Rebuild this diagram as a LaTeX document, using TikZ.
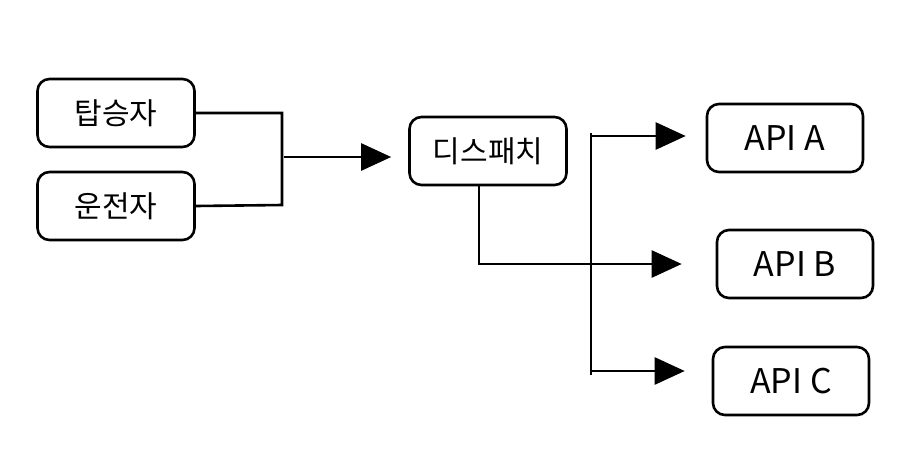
\documentclass[tikz,border=0pt]{standalone}
\usepackage{fontspec}
\newfontfamily\krfont{Noto Sans CJK KR}
\usetikzlibrary{arrows.meta}

\begin{document}
\begin{tikzpicture}[x=1pt,y=-1pt,>={Triangle[length=30pt,width=27pt]},line width=2.6pt,
 box/.style={draw,rounded corners=12pt,minimum width=157pt,minimum height=68pt,inner sep=0pt,
  font=\krfont\fontsize{30}{34}\selectfont},
 api/.style={box,minimum width=156pt,font=\krfont\fontsize{34}{40}\selectfont}]
 \useasboundingbox (0,0) rectangle (918,448);
 \node[box] (rider) at (116,113) {탑승자};
 \node[box] (driver) at (116,206) {운전자};
 \node[box] (dispatch) at (488,151) {디스패치};
 \node[api] (apia) at (785,138) {API A};
 \node[api] (apib) at (795,264) {API B};
 \node[api] (apic) at (791,381) {API C};

 \coordinate (jtop) at (282,113);
 \coordinate (jbot) at (282,205);
 \coordinate (join) at (284,157);
 \coordinate (bartop) at (591,133);
 \coordinate (barbot) at (591,375);
 \coordinate (forka) at (591,136);
 \coordinate (forkc) at (591,371);

 \draw (rider.east) -- (jtop) -- (jbot) -- (driver.east);
 \draw (bartop) -- (barbot);
 \path[->] (join)
 edge [shorten >=17pt] (join -| dispatch.west)
 ([xshift=-9pt]dispatch.south)
 edge [shorten >=34pt,to path={|- (\tikztotarget)}] (apib.west)
 (forka)
 edge [shorten >=20pt] (forka -| apia.west)
 (forkc)
 edge [shorten >=27pt] (forkc -| apic.west);
\end{tikzpicture}
\end{document}
